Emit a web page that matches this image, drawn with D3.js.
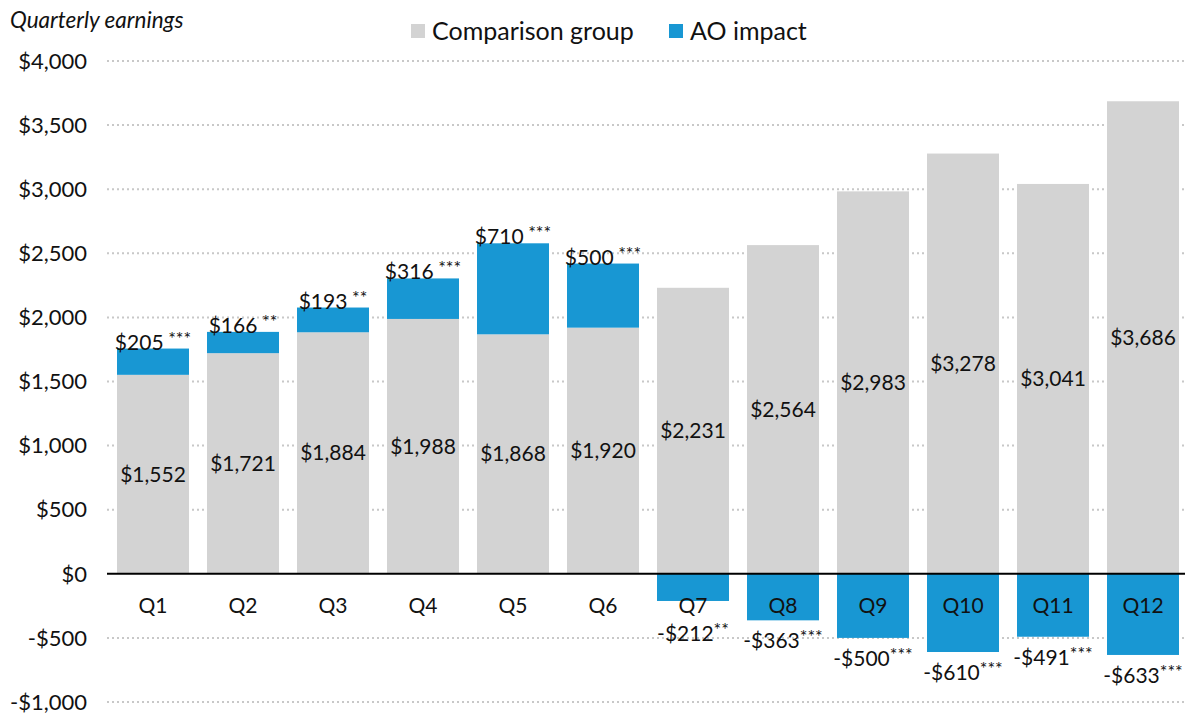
<!DOCTYPE html>
<html>
<head>
<meta charset="utf-8"/>
<script src="https://cdn.jsdelivr.net/npm/d3@7"></script>
<style>
body { margin: 0; background: #fff; }
svg text { font-family: Lato, "Open Sans", sans-serif; fill: #111; }
.grid line { stroke: #c8c8c8; stroke-width: 2; stroke-dasharray: 2 3; }
</style>
</head>
<body>
<svg id="chart" width="1185" height="715"></svg>
<script>
var quarters = ["Q1","Q2","Q3","Q4","Q5","Q6","Q7","Q8","Q9","Q10","Q11","Q12"];
var comparison = [1552, 1721, 1884, 1988, 1868, 1920, 2231, 2564, 2983, 3278, 3041, 3686];
var impact = [205, 166, 193, 316, 710, 500, -212, -363, -500, -610, -491, -633];
var stars = ["***","**","**","***","***","***","**","***","***","***","***","***"];
var yTicks = [-1000, -500, 0, 500, 1000, 1500, 2000, 2500, 3000, 3500, 4000];

var grey = "#d3d3d3", blue = "#1897d3";
var svg = d3.select("#chart");

var x = d3.scaleBand().domain(quarters).range([108, 1188]).paddingInner(0.2).paddingOuter(0.1);
var y = d3.scaleLinear().domain([-1000, 4000]).range([702, 61]);

var fmt = function(v) { return (v < 0 ? "-$" : "$") + d3.format(",")(Math.abs(v)); };

// gridlines
svg.append("g").attr("class", "grid")
  .selectAll("line").data(yTicks.filter(function(d) { return d !== 0; })).enter()
  .append("line")
  .attr("x1", 107).attr("x2", 1185)
  .attr("y1", function(d) { return y(d); }).attr("y2", function(d) { return y(d); });

// y tick labels
svg.append("g").selectAll("text").data(yTicks).enter()
  .append("text")
  .attr("x", 87).attr("y", function(d) { return y(d); })
  .attr("dy", "0.35em").attr("text-anchor", "end")
  .style("font-size", "22px")
  .text(fmt);

// comparison bars
svg.append("g").selectAll("rect").data(comparison).enter()
  .append("rect")
  .attr("x", function(d, i) { return x(quarters[i]); })
  .attr("width", x.bandwidth())
  .attr("y", function(d) { return y(d); })
  .attr("height", function(d) { return y(0) - y(d); })
  .attr("fill", grey);

// impact bars
svg.append("g").selectAll("rect").data(impact).enter()
  .append("rect")
  .attr("x", function(d, i) { return x(quarters[i]); })
  .attr("width", x.bandwidth())
  .attr("y", function(d, i) { return d > 0 ? y(comparison[i] + d) : y(0); })
  .attr("height", function(d, i) { return d > 0 ? y(comparison[i]) - y(comparison[i] + d) : y(d) - y(0); })
  .attr("fill", blue);

// zero line
svg.append("line")
  .attr("x1", 107).attr("x2", 1185)
  .attr("y1", y(0)).attr("y2", y(0))
  .attr("stroke", "#000").attr("stroke-width", 2);

// category labels
svg.append("g").selectAll("text").data(quarters).enter()
  .append("text")
  .attr("x", function(d) { return x(d) + x.bandwidth() / 2; })
  .attr("y", y(0) + 39)
  .attr("text-anchor", "middle")
  .style("font-size", "21px")
  .text(function(d) { return d; });

// comparison value labels
svg.append("g").selectAll("text").data(comparison).enter()
  .append("text")
  .attr("x", function(d, i) { return x(quarters[i]) + x.bandwidth() / 2; })
  .attr("y", function(d) { return (y(d) + y(0)) / 2; })
  .attr("dy", "0.35em").attr("text-anchor", "middle")
  .style("font-size", "21px")
  .text(fmt);

// impact value labels
var il = svg.append("g").selectAll("text").data(impact).enter()
  .append("text")
  .attr("x", function(d, i) { return x(quarters[i]) + x.bandwidth() / 2; })
  .attr("y", function(d, i) {
    return d > 0 ? y(comparison[i] + d) + 1 : Math.max(y(d) + 28, y(0) + 67);
  })
  .attr("text-anchor", "middle")
  .style("font-size", "21px");
il.append("tspan").text(function(d) { return fmt(d); });
il.append("tspan")
  .attr("dy", -5)
  .style("font-size", "18px")
  .text(function(d, i) { return (d > 0 ? " " : "") + stars[i]; });

// title
svg.append("text")
  .attr("x", 10).attr("y", 28)
  .style("font-size", "22.5px").style("font-style", "italic")
  .text("Quarterly earnings");

// legend
var legend = [["Comparison group", grey], ["AO impact", blue]];
var lx = [411, 669];
var lg = svg.append("g").selectAll("g").data(legend).enter()
  .append("g").attr("transform", function(d, i) { return "translate(" + lx[i] + ",24)"; });
lg.append("rect").attr("width", 14).attr("height", 14).attr("fill", function(d) { return d[1]; });
lg.append("text").attr("x", 21).attr("y", 7).attr("dy", "0.35em")
  .style("font-size", "25px").text(function(d) { return d[0]; });
</script>
</body>
</html>
